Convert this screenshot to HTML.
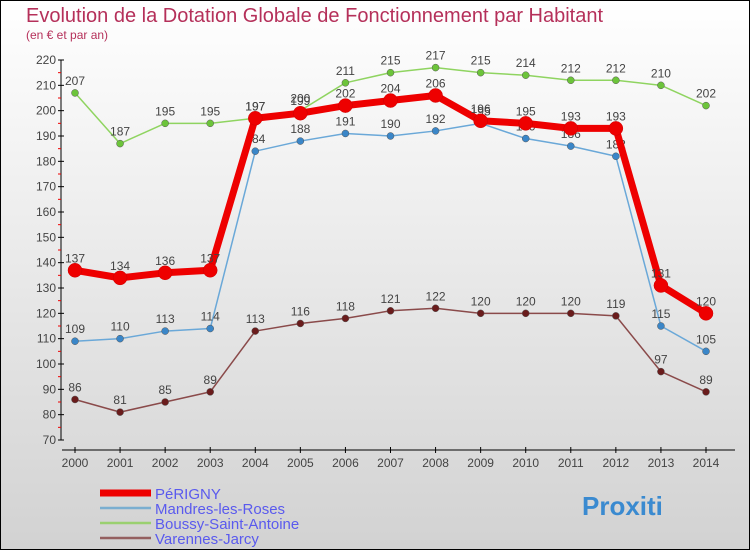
<!DOCTYPE html>
<html><head><meta charset="utf-8"><style>
body{margin:0}
svg{display:block;font-family:"Liberation Sans",sans-serif}
</style></head><body>
<svg id="c" width="750" height="550" xmlns="http://www.w3.org/2000/svg">
<defs><linearGradient id="bg" x1="0" y1="0" x2="0" y2="1"><stop offset="0" stop-color="#ffffff"/><stop offset="1" stop-color="#d2d2d2"/></linearGradient></defs>
<rect x="0.5" y="0.5" width="749" height="549" fill="url(#bg)" stroke="#000"/>
<text x="26" y="22" font-size="20" fill="#b5305a">Evolution de la Dotation Globale de Fonctionnement par Habitant</text>
<text x="26" y="39" font-size="12" fill="#b5305a">(en € et par an)</text>
<g id="axes"></g>
<g id="series"></g>
<g id="legend"></g>
</svg>
<script>
const years=["2000","2001","2002","2003","2004","2005","2006","2007","2008","2009","2010","2011","2012","2013","2014"];
const perigny=[137,134,136,137,197,199,202,204,206,196,195,193,193,131,120];
const mandres=[109,110,113,114,184,188,191,190,192,195,189,186,182,115,105];
const boussy=[207,187,195,195,197,200,211,215,217,215,214,212,212,210,202];
const varennes=[86,81,85,89,113,116,118,121,122,120,120,120,119,97,89];
const yTicks=[70,80,90,100,110,120,130,140,150,160,170,180,190,200,210,220];
const NS="http://www.w3.org/2000/svg";
const xs=i=>75+i*(706-75)/14;
const ys=v=>440-(v-70)*380/150;
function el(t,a,p){const e=document.createElementNS(NS,t);for(const k in a)e.setAttribute(k,a[k]);p.appendChild(e);return e;}
const ax=document.getElementById('axes');
let l=el('line',{x1:61,y1:60,x2:61,y2:440,stroke:'#000'},ax);


l=el('line',{x1:62,y1:450,x2:735,y2:450,stroke:'#000'},ax);


yTicks.forEach((v,i)=>{
  el('line',{x1:58,y1:ys(v),x2:64,y2:ys(v),stroke:'#000'},ax);
  if(i<yTicks.length-1) el('line',{x1:58,y1:ys(v+5),x2:61,y2:ys(v+5),stroke:'#e00'},ax);
  const t=el('text',{x:56,y:ys(v)+4,'font-size':12,fill:'#444','text-anchor':'end'},ax);t.textContent=v;
  
  
});
years.forEach((y,i)=>{
  el('line',{x1:xs(i),y1:447,x2:xs(i),y2:453,stroke:'#000'},ax);
  const t=el('text',{x:xs(i),y:467,'font-size':12,fill:'#444','text-anchor':'middle'},ax);t.textContent=y;
  
  
});
const sg=document.getElementById('series');
const defs=[
 {d:mandres,c:'#6aa8d8',dot:'#3a86c8',w:1.5,r:3.5,name:'mandres-les-roses'},
 {d:boussy,c:'#8fd460',dot:'#6cc43a',w:1.5,r:3.5,name:'boussy-saint-antoine'},
 {d:varennes,c:'#8a4a4a',dot:'#6a1c1c',w:1.5,r:3.5,name:'varennes-jarcy'},
 {d:perigny,c:'#ee0000',dot:'#ee0000',w:7,r:7,name:'perigny'}];
defs.forEach(s=>{
  const g=el('g',{},sg);
  
  
  const p=el('polyline',{points:s.d.map((v,i)=>xs(i)+','+ys(v)).join(' '),fill:'none',stroke:s.c,'stroke-width':s.w,'stroke-linejoin':'round'},g);
  
  
  s.d.forEach((v,i)=>{
    const c=el('circle',{cx:xs(i),cy:ys(v),r:s.r,fill:s.dot,stroke:s.w>2?'#c00':'#555','stroke-width':0.5},g);
    
    
    const t=el('text',{x:xs(i),y:ys(v)-8,'font-size':12,fill:'#444','text-anchor':'middle'},g);t.textContent=v;
    
    
  });
});
const lg=document.getElementById('legend');
const items=[['PéRIGNY','#ee0000',7,'perigny'],['Mandres-les-Roses','#7aaed0',2.5,'mandres-les-roses'],['Boussy-Saint-Antoine','#9ad070',2.5,'boussy-saint-antoine'],['Varennes-Jarcy','#946060',2.5,'varennes-jarcy']];
items.forEach((it,i)=>{
  const y=493+i*15;
  const g=el('g',{},lg);
  
  
  el('line',{x1:100,y1:y,x2:151,y2:y,stroke:it[1],'stroke-width':it[2]},g);
  const t=el('text',{x:155,y:y+6,'font-size':15,fill:'#5a5aee'},g);t.textContent=it[0];
});
const pt=el('text',{x:582,y:515,'font-size':26,'font-weight':'bold',fill:'#3a8ad0'},lg);
pt.textContent='Proxiti';


</script>
</body></html>
